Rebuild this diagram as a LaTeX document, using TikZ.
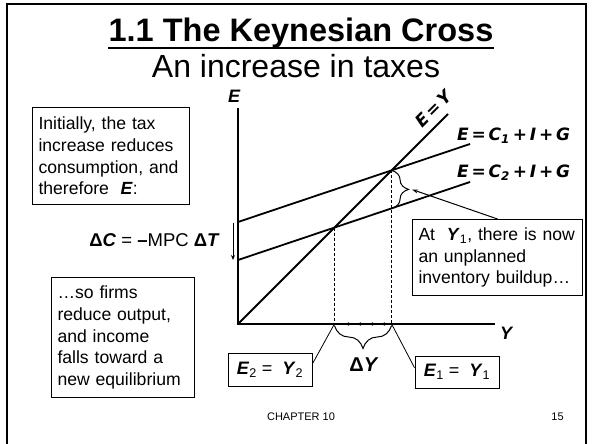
\documentclass[tikz,border=0pt]{standalone}
\usepackage{fontspec}
\setmainfont{Liberation Sans}
\newfontfamily\dvfont{DejaVu Sans}
\usetikzlibrary{decorations.pathreplacing,arrows.meta,calc}
\begin{document}
\begin{tikzpicture}[x=1bp,y=-1bp,
  txtbox/.style={draw,line width=1bp,align=left,inner xsep=6bp,inner ysep=0bp,
    font=\fontsize{17.6bp}{21.6bp}\selectfont},
  eqbox/.style={draw,line width=1bp,minimum width=84bp,minimum height=33bp,inner sep=0pt,
    font=\fontsize{18bp}{20bp}\selectfont},
  curve/.style={line width=1.8bp},
  axisline/.style={line width=1.3bp},
  guide/.style={dash pattern=on 3bp off 2bp, line width=0.8bp},
  thinline/.style={line width=0.8bp},
  eqlab/.style={font=\dvfont\bfseries\itshape\fontsize{17bp}{20bp}\selectfont, inner sep=0pt},
  axlab/.style={font=\bfseries\itshape\fontsize{18bp}{20bp}\selectfont, inner sep=0pt},
  bracedeco/.style={decorate,decoration={brace,amplitude=#1},line width=1bp},
  ]
\useasboundingbox (0,0) rectangle (592,444);
\draw[line width=2bp] (7,4) rectangle (586,447);

% titles
\node[anchor=base,inner sep=0pt,font=\fontsize{32.5bp}{38bp}\selectfont\bfseries] (title) at (301,42) {1.1 The Keynesian Cross};
\draw[line width=2.6bp] ($(title.base west)+(0,6)$) -- ($(title.base east)+(0,6)$);
\node[anchor=base,inner sep=0pt,font=\fontsize{32bp}{38bp}\selectfont] (subtitle) at (296,78) {An increase in taxes};

% axes
\coordinate (O) at (238,324);
\coordinate (ytop) at (238,108);
\coordinate (xend) at (495,324);
\draw[axisline] (ytop) -- (O) -- (xend);
\node[axlab] (elab) at (234,96) {E};
\node[axlab] (ylab) at (506,333) {Y};

% lines
\coordinate (eytop) at (448,114);
\coordinate (c1a) at (238,222); \coordinate (c1b) at (470,144);
\coordinate (c2a) at (238,260); \coordinate (c2b) at (470,182);
\draw[curve] (O) -- (eytop);
\draw[curve] (c1a) -- (c1b);
\draw[curve] (c2a) -- (c2b);
\node[eqlab,rotate=45] (eylab) at (433.5,108.5) {E\,=\,Y};
\node[eqlab,anchor=west] (c1lab) at (457,136) {E\,=\,C\textsubscript{1}\,+\,I\,+\,G};
\node[eqlab,anchor=west] (c2lab) at (457,173) {E\,=\,C\textsubscript{2}\,+\,I\,+\,G};

% equilibria
\coordinate (i1) at (391.6,170.4);
\coordinate (i2) at (334.4,227.6);
\coordinate (y1) at (391.6,324);
\coordinate (y2) at (334.4,324);
\coordinate (k2) at (391.6,208.4);
\draw[guide] (i1) -- (y1);
\draw[guide] (i2) -- (y2);
\foreach \x in {345,357,369,381} \draw[-{Stealth[length=4bp,width=3.5bp]},line width=0.5bp] ({\x+5},324) -- (\x,324);

% braces
\draw[bracedeco=17bp] (i1) -- (k2);
\coordinate (btip) at (412,189.5);
\coordinate (hb1) at (391.6,325.5);
\coordinate (hb2) at (334.4,325.5);
\draw[bracedeco=23bp] (hb1) -- (hb2);
\node[axlab,font=\bfseries\fontsize{20bp}{22bp}\selectfont] (dy) at (364,365) {Δ\textit{Y}};

% delta C
\coordinate (da) at (233,223);
\coordinate (db) at (233,260);
\draw[-{Stealth[length=5bp,width=4bp]},line width=1bp] (da) -- (db);
\node[anchor=east,inner sep=0pt,font=\fontsize{18.5bp}{20bp}\selectfont] (dc) at (220,240)
  {\textbf{Δ\textit{C}} = \textbf{–}MPC \textbf{Δ\textit{T}}};

% text boxes
\node[txtbox,anchor=north west,text width=145bp,minimum height=97bp] (b1) at (32,107)
  {Initially, the tax\\increase reduces\\consumption, and\\therefore\ \ \textbf{\textit{E}}:};
\node[txtbox,anchor=north west,text width=131bp,minimum height=120bp] (b2) at (51,277)
  {…so firms\\reduce output,\\and income\\falls toward a\\new equilibrium};
\node[txtbox,anchor=north west,text width=158bp,minimum height=76bp] (b3) at (412,219)
  {At\ \ \textbf{\textit{Y}}\textsubscript{1}, there is now\\an unplanned\\inventory buildup…};
\draw[-{Stealth[length=6bp,width=4bp]},line width=1bp] (b3.north) -- (btip);

% equilibrium boxes
\node[eqbox] (e2) at (270,369.5) {\textbf{\textit{E}}\textsubscript{2} =\ \ \textbf{\textit{Y}}\textsubscript{2}};
\node[eqbox,minimum height=32bp] (e1) at (457,372) {\textbf{\textit{E}}\textsubscript{1} =\ \ \textbf{\textit{Y}}\textsubscript{1}};
\draw[thinline] (y2) -- ($(e2.north east)!0.33!(e2.south east)$);
\draw[thinline] (y1) -- ($(e1.north west)!0.37!(e1.south west)$);

% footer
\node[inner sep=0pt,font=\fontsize{11bp}{13bp}\selectfont] (chap) at (301,417) {CHAPTER 10};
\node[inner sep=0pt,font=\fontsize{11bp}{13bp}\selectfont] (pg) at (557.5,417) {15};
\end{tikzpicture}
\end{document}
